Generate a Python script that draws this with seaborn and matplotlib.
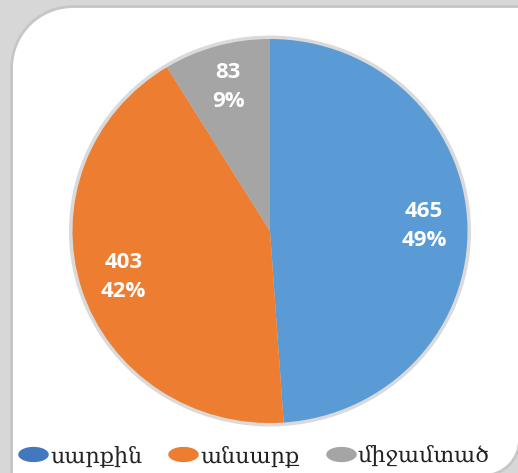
import matplotlib
matplotlib.use("Agg")
import matplotlib.pyplot as plt
import seaborn as sns
import numpy as np
from matplotlib.path import Path
from matplotlib.patches import PathPatch
from matplotlib.lines import Line2D
from matplotlib.markers import MarkerStyle
from matplotlib.transforms import IdentityTransform

# ---- data ----
categories = ["սարքին", "անսարք", "միջամտած"]
values = [465, 403, 83]
percents = ["49%", "42%", "9%"]
pie_colors = ["#5B9BD5", "#ED7D31", "#A5A5A5"]
legend_colors = ["#4178BE", "#EE7D31", "#A5A5A5"]

sns.set_style("white")
plt.rcParams["font.family"] = ["DejaVu Serif", "DejaVu Sans"]

W, H = 518, 473
fig = plt.figure(figsize=(W / 100, H / 100), dpi=100, facecolor="#d7d7d7")

# ---- white card background with rounded corners ----
def ty(y):
    return H - y

k = 0.5523
L, T, R, B = 13, 8, 518, 474
r1, r2 = 60, 34
verts = [
    (L, ty(B + 5)),
    (L, ty(T + r1)),
    (L, ty(T + r1 - k * r1)), (L + r1 - k * r1, ty(T)), (L + r1, ty(T)),
    (R + 5, ty(T)),
    (R + 5, ty(B - r2)),
    (R, ty(B - r2)),
    (R, ty(B - r2 + k * r2)), (R - r2 + k * r2, ty(B)), (R - r2, ty(B)),
    (L, ty(B + 5)),
    (L, ty(B + 5)),
]
codes = [Path.MOVETO, Path.LINETO,
         Path.CURVE4, Path.CURVE4, Path.CURVE4,
         Path.LINETO, Path.LINETO, Path.LINETO,
         Path.CURVE4, Path.CURVE4, Path.CURVE4,
         Path.LINETO, Path.CLOSEPOLY]
card_path = Path(verts, codes)
fig.patches.append(PathPatch(card_path, transform=IdentityTransform(),
                             facecolor="none", edgecolor="#c6c6c6", lw=4, zorder=-3))
fig.patches.append(PathPatch(card_path, transform=IdentityTransform(),
                             facecolor="white", edgecolor="none", zorder=-2))

# ---- pie ----
cx, cy, rx, ry = 270, 231, 197.5, 192
ax = fig.add_axes([(cx - rx) / W, (H - cy - ry) / H, 2 * rx / W, 2 * ry / H])
ax.set_facecolor("none")
ax.set_zorder(1)

# soft gray rim
ax.pie([1], colors=["#dadada"], radius=1.018, startangle=90,
       wedgeprops=dict(linewidth=0))

labels_txt = [f"{v}\n{p}" for v, p in zip(values, percents)]
wedges, texts = ax.pie(values, colors=pie_colors, startangle=90, counterclock=False,
                       radius=1.0, wedgeprops=dict(linewidth=0),
                       labels=labels_txt, labeldistance=0.78)
for t in texts:
    t.set_ha("center")
    t.set_va("center")
    t.set_color("white")
    t.set_fontsize(16)
    t.set_fontweight("bold")
    t.set_family(["Open Sans", "DejaVu Sans"])
    t.set_linespacing(1.5)

ax.set_aspect("auto")
ax.set_xlim(-1, 1)
ax.set_ylim(-1, 1)
ax.axis("off")

# ---- legend ----
theta = np.linspace(0, 2 * np.pi, 60)
ell = Path(np.column_stack([1.0 * np.cos(theta), 0.5 * np.sin(theta)]))
handles = [Line2D([], [], linestyle="none", marker=MarkerStyle(ell), markersize=22,
                  markerfacecolor=c, markeredgecolor="none") for c in legend_colors]
leg = fig.legend(handles, categories, loc="center left",
                 bbox_to_anchor=(19 / W, 1 - 456 / H), ncol=3, frameon=False,
                 fontsize=16, handlelength=1.3, handletextpad=0.1,
                 columnspacing=1.2, borderaxespad=0, borderpad=0)
leg.set_zorder(5)
for t in leg.get_texts():
    t.set_color("#222222")

fig.savefig("out.png", dpi=100, facecolor=fig.get_facecolor())
